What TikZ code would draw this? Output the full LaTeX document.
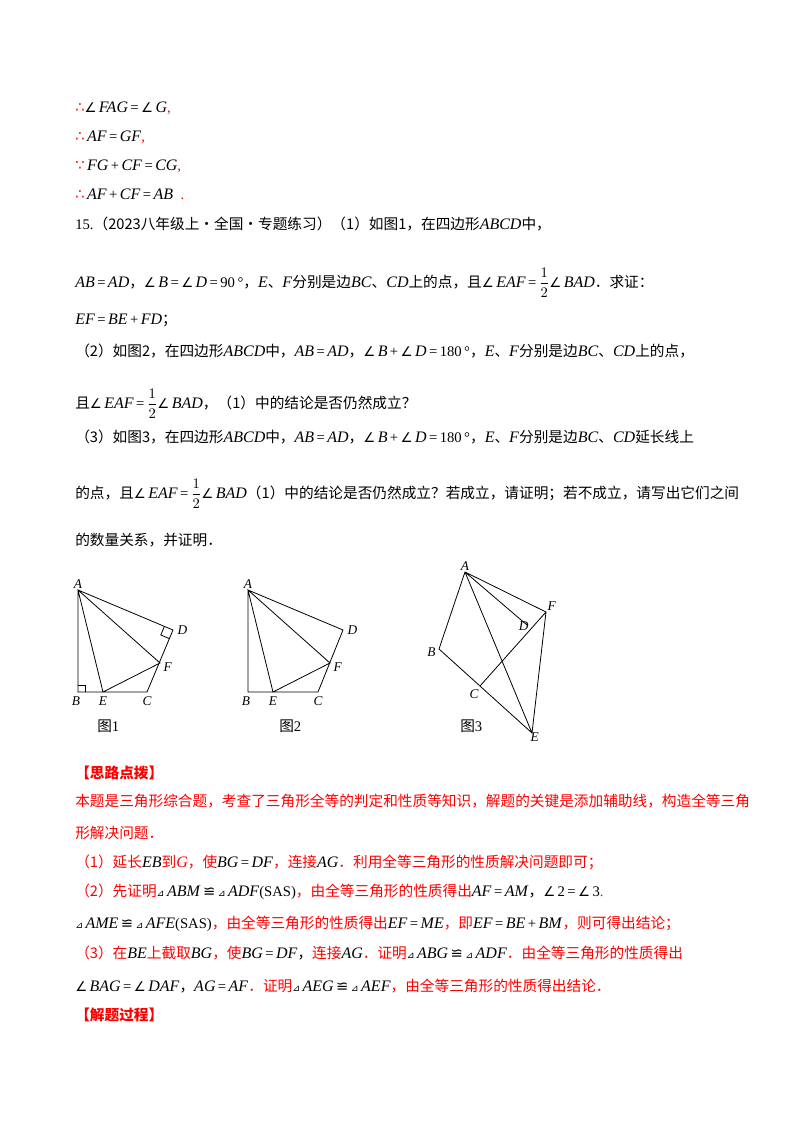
\documentclass[tikz,border=0pt]{standalone}
\usepackage{fontspec}
\usetikzlibrary{calc}
\setmainfont{Liberation Serif}
\newfontfamily\cjk{Noto Sans CJK SC}
\newfontfamily\dv{DejaVu Sans}
\newcommand{\mi}[1]{{\fontsize{12}{13}\selectfont\textit{#1}}}
\newcommand{\ang}{{\dv\fontsize{10}{10}\selectfont ∠}}
\newcommand{\tri}{{\dv\fontsize{7}{8}\selectfont ⊿}}
\newcommand{\cg}{{\dv ≌}}
\newcommand{\C}[1]{{\cjk #1}}
\newcommand{\R}[1]{\textcolor{red}{\cjk #1}}
\newcommand{\hf}{$\displaystyle\frac{1}{2}$}
\begin{document}
\begin{tikzpicture}[x=0.75pt,y=-0.75pt,
  tl/.style={anchor=base west,inner sep=0pt,font=\fontsize{11}{13}\selectfont},
  lb/.style={inner sep=1pt,font=\fontsize{10}{12}\selectfont\itshape},
  fig/.style={line width=0.6pt}]
\useasboundingbox (0,0) rectangle (800,1132);
\fill[white] (0,0) rectangle (800,1132);
% text
\node[tl] (t1) at (75,112) {\textcolor{red}{\dv ∴}\ang\,\mi{FAG}\,=\,\ang\,\mi{G}\textcolor{red}{,}};
\node[tl] (t2) at (75,141) {\textcolor{red}{\dv ∴}\,\mi{AF}\,=\,\mi{GF}\textcolor{red}{,}};
\node[tl] (t3) at (75,170) {\textcolor{red}{\dv ∵}\,\mi{FG}\,+\,\mi{CF}\,=\,\mi{CG}\textcolor{red}{,}};
\node[tl] (t4) at (75,199) {\textcolor{red}{\dv ∴}\,\mi{AF}\,+\,\mi{CF}\,=\,\mi{AB}\ \ \textcolor{red}{.}};
\node[tl] (t5) at (75,229) {15.\C{（2023八年级上·全国·专题练习）（1）如图1，在四边形}\mi{ABCD}\C{中，}};
\node[tl] (t6) at (75,287) {\mi{AB}\,=\,\mi{AD}\C{，}\ang\,\mi{B}\,=\,\ang\,\mi{D}\,=\,90\,°\C{，}\mi{E}\C{、}\mi{F}\C{分别是边}\mi{BC}\C{、}\mi{CD}\C{上的点，且}\ang\,\mi{EAF}\,=\,\hf\ang\,\mi{BAD}\C{．求证：}};
\node[tl] (t7) at (75,324) {\mi{EF}\,=\,\mi{BE}\,+\,\mi{FD}\C{；}};
\node[tl] (t8) at (75,356) {\C{（2）如图2，在四边形}\mi{ABCD}\C{中，}\mi{AB}\,=\,\mi{AD}\C{，}\ang\,\mi{B}\,+\,\ang\,\mi{D}\,=\,180\,°\C{，}\mi{E}\C{、}\mi{F}\C{分别是边}\mi{BC}\C{、}\mi{CD}\C{上的点，}};
\node[tl] (t9) at (75,408) {\C{且}\ang\,\mi{EAF}\,=\,\hf\ang\,\mi{BAD}\C{，（1）中的结论是否仍然成立？}};
\node[tl] (t10) at (75,442) {\C{（3）如图3，在四边形}\mi{ABCD}\C{中，}\mi{AB}\,=\,\mi{AD}\C{，}\ang\,\mi{B}\,+\,\ang\,\mi{D}\,=\,180\,°\C{，}\mi{E}\C{、}\mi{F}\C{分别是边}\mi{BC}\C{、}\mi{CD}\C{延长线上}};
\node[tl] (t11) at (75,498) {\C{的点，且}\ang\,\mi{EAF}\,=\,\hf\ang\,\mi{BAD}\C{（1）中的结论是否仍然成立？若成立，请证明；若不成立，请写出它们之间}};
\node[tl] (t12) at (75,545) {\C{的数量关系，并证明．}};
% hints
\node[tl] (h0) at (75,778) {\textcolor{red}{\cjk\bfseries 【思路点拨】}};
\node[tl] (h1) at (75,806) {\R{本题是三角形综合题，考查了三角形全等的判定和性质等知识，解题的关键是添加辅助线，构造全等三角}};
\node[tl] (h2) at (75,838) {\R{形解决问题．}};
\node[tl] (h3) at (75,867) {\R{（1）延长}\mi{EB}\R{到}\textcolor{red}{\mi{G}}\R{，使}\mi{BG}\,=\,\mi{DF}\R{，连接}\mi{AG}\R{．利用全等三角形的性质解决问题即可；}};
\node[tl] (h4) at (75,896) {\R{（2）先证明}\tri\,\mi{ABM}\,\cg\,\tri\,\mi{ADF}(SAS)\R{，由全等三角形的性质得出}\mi{AF}\,=\,\mi{AM}\C{，}\ang\,2\,=\,\ang\,3\textcolor{red}{.}};
\node[tl] (h5) at (75,928) {\tri\,\mi{AME}\,\cg\,\tri\,\mi{AFE}(SAS)\R{，由全等三角形的性质得出}\mi{EF}\,=\,\mi{ME}\R{，即}\mi{EF}\,=\,\mi{BE}\,+\,\mi{BM}\R{，则可得出结论；}};
\node[tl] (h6) at (75,958) {\R{（3）在}\mi{BE}\R{上截取}\mi{BG}\R{，使}\mi{BG}\,=\,\mi{DF}\C{，}\R{连接}\mi{AG}\R{．证明}\tri\,\mi{ABG}\,\cg\,\tri\,\mi{ADF}\R{．由全等三角形的性质得出}};
\node[tl] (h7) at (75,991) {\ang\,\mi{BAG}\,=\,\ang\,\mi{DAF}\C{，}\mi{AG}\,=\,\mi{AF}\R{．证明}\tri\,\mi{AEG}\,\cg\,\tri\,\mi{AEF}\R{，由全等三角形的性质得出结论．}};
\node[tl] (h8) at (75,1020) {\textcolor{red}{\cjk\bfseries 【解题过程】}};
% figure 1
\coordinate (A1) at (78,590); \coordinate (B1) at (78,692); \coordinate (E1) at (103,692);
\coordinate (C1) at (147,692); \coordinate (D1) at (173,630); \coordinate (F1) at (160,663);
\draw[fig] (A1)--(B1)--(C1)--(D1)--cycle (A1)--(E1)--(F1)--cycle;
\draw[fig] (78,685)--(85,685)--(85,692);
\draw[fig] ($(D1)!7pt!(A1)$) -- ($(D1)!7pt!(A1)+(D1)!7pt!(C1)-(D1)$) -- ($(D1)!7pt!(C1)$);
\node[lb,anchor=south] (lA1) at (A1) {A}; \node[lb,anchor=north] (lB1) at (76,695) {B};
\node[lb,anchor=north] (lE1) at (103,695) {E}; \node[lb,anchor=north] (lC1) at (147,695) {C};
\node[lb,anchor=west] (lD1) at (176,630) {D}; \node[lb,anchor=west] (lF1) at (162,667) {F};
\node[tl] (g1) at (97,731) {\C{图}1};
% figure 2
\coordinate (A2) at (248,590); \coordinate (B2) at (248,692); \coordinate (E2) at (273,692);
\coordinate (C2) at (318,692); \coordinate (D2) at (343,630); \coordinate (F2) at (330,663);
\draw[fig] (A2)--(B2)--(C2)--(D2)--cycle (A2)--(E2)--(F2)--cycle;
\node[lb,anchor=south] (lA2) at (A2) {A}; \node[lb,anchor=north] (lB2) at (246,695) {B};
\node[lb,anchor=north] (lE2) at (273,695) {E}; \node[lb,anchor=north] (lC2) at (318,695) {C};
\node[lb,anchor=west] (lD2) at (346,630) {D}; \node[lb,anchor=west] (lF2) at (332,667) {F};
\node[tl] (g2) at (279,731) {\C{图}2};
% figure 3
\coordinate (A3) at (465,572); \coordinate (B3) at (439,649); \coordinate (C3) at (480,686);
\coordinate (D3) at (527,625); \coordinate (F3) at (546,612); \coordinate (E3) at (532,733);
\draw[fig] (A3)--(B3)--(E3)--(F3)--cycle (A3)--(E3) (A3)--(D3) (C3)--(F3);
\node[lb,anchor=south] (lA3) at (A3) {A}; \node[lb,anchor=east] (lB3) at (437,652) {B};
\node[lb,anchor=north east] (lC3) at (480,688) {C}; \node[lb,anchor=east] (lD3) at (530,626) {D};
\node[lb,anchor=south west] (lF3) at (546,612) {F}; \node[lb,anchor=north west] (lE3) at (529,731) {E};
\node[tl] (g3) at (460,731) {\C{图}3};
\end{tikzpicture}
\end{document}
